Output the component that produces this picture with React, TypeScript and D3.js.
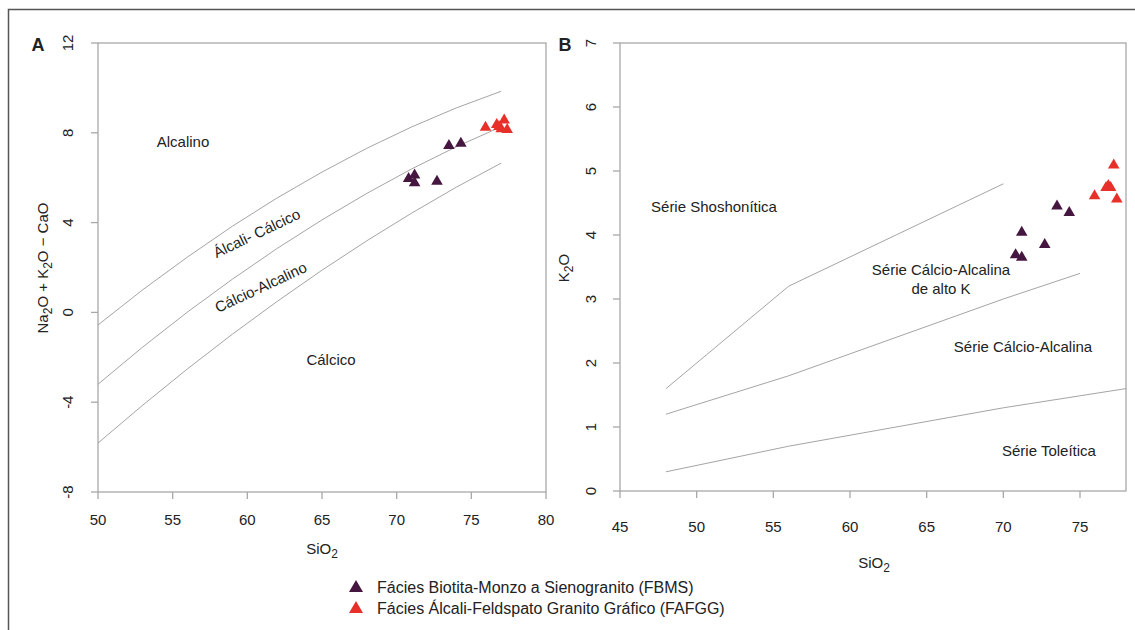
import React from "react";
import * as d3 from "d3";

// Sample compositions (wt%)
const fbmsSiO2 = [70.8, 71.2, 71.2, 72.7, 73.5, 74.3];
const fbmsMALI = [5.96, 6.11, 5.77, 5.83, 7.43, 7.53];
const fbmsK2O = [3.69, 4.04, 3.65, 3.85, 4.45, 4.35];

const fafggSiO2 = [75.95, 76.7, 76.85, 77.0, 77.2, 77.4];
const fafggMALI = [8.24, 8.36, 8.27, 8.17, 8.56, 8.14];
const fafggK2O = [4.61, 4.74, 4.77, 4.74, 5.09, 4.56];

// MALI field boundaries (Frost et al., 2001), tabulated
const maliSiO2 = [50, 53, 56, 59, 62, 65, 68, 71, 74, 77];
const alkalicBound = [-0.56, 1.01, 2.47, 3.84, 5.1, 6.25, 7.31, 8.26, 9.11, 9.85];
const alkaliCalcicBound = [-3.2, -1.54, 0.02, 1.48, 2.85, 4.12, 5.3, 6.39, 7.38, 8.27];
const calcAlkalicBound = [-5.82, -4.13, -2.51, -0.97, 0.49, 1.88, 3.19, 4.42, 5.58, 6.65];

// K2O vs SiO2 series boundaries (Peccerillo & Taylor, 1976)
const shoshSiO2 = [48, 56, 70];
const shoshK2O = [1.6, 3.2, 4.8];
const highKSiO2 = [48, 52, 56, 63, 70, 75];
const highKK2O = [1.2, 1.5, 1.8, 2.4, 3.0, 3.4];
const tholSiO2 = [48, 52, 56, 63, 70, 78];
const tholK2O = [0.3, 0.5, 0.7, 1.0, 1.3, 1.6];

const ticksA_x = [50, 55, 60, 65, 70, 75, 80];
const ticksA_y = [-8, -4, 0, 4, 8, 12];
const ticksB_x = [45, 50, 55, 60, 65, 70, 75];
const ticksB_y = [0, 1, 2, 3, 4, 5, 6, 7];

const PURPLE = "#45163f";
const RED = "#e8302a";
const AXIS = "#a8a8a8";
const BOUND = "#9a9a9a";
const TEXT = "#222";
const FONT = "'Liberation Sans', Arial, sans-serif";

const tri = d3.symbol(d3.symbolTriangle).size(58)() as string;
const triLegend = d3.symbol(d3.symbolTriangle).size(85)() as string;

type Pt = [number, number];
const zip = (a: number[], b: number[]): Pt[] => a.map((v, i) => [v, b[i]]);

export default function App() {
  // Panel A scales
  const xA = d3.scaleLinear().domain([50, 80]).range([98, 546]);
  const yA = d3.scaleLinear().domain([-8, 12]).range([492, 43]);
  // Panel B scales
  const xB = d3.scaleLinear().domain([45, 78]).range([620, 1126]);
  const yB = d3.scaleLinear().domain([0, 7]).range([491, 43]);

  const lineA = d3.line<Pt>().x((d) => xA(d[0])).y((d) => yA(d[1]));
  const lineB = d3.line<Pt>().x((d) => xB(d[0])).y((d) => yB(d[1]));

  const tickLen = 7;
  const fs = 15;

  return (
    <svg
      width={1135}
      height={630}
      style={{ position: "absolute", left: 0, top: 0, background: "#fff" }}
      fontFamily={FONT}
    >
      {/* outer frame */}
      <path d="M8.5,1200 V9.5 H1200" fill="none" stroke="#555" strokeWidth={1.5} />

      {/* ---------- Panel A ---------- */}
      <text x={38} y={51} fontSize={18} fontWeight="bold" fill={TEXT} textAnchor="middle">A</text>
      <rect x={98} y={43} width={546 - 98} height={492 - 43} fill="none" stroke={AXIS} strokeWidth={1.3} />
      {ticksA_x.map((t) => (
        <g key={"ax" + t}>
          <line x1={xA(t)} x2={xA(t)} y1={492} y2={492 + tickLen} stroke={AXIS} strokeWidth={1.3} />
          <text x={xA(t)} y={525} fontSize={fs} fill={TEXT} textAnchor="middle">{t}</text>
        </g>
      ))}
      {ticksA_y.map((t) => (
        <g key={"ay" + t}>
          <line x1={98 - tickLen} x2={98} y1={yA(t)} y2={yA(t)} stroke={AXIS} strokeWidth={1.3} />
          <text
            transform={`translate(73,${yA(t)}) rotate(-90)`}
            fontSize={fs}
            fill={TEXT}
            textAnchor="middle"
          >
            {t}
          </text>
        </g>
      ))}
      <text x={xA(65)} y={554} fontSize={fs} fill={TEXT} textAnchor="middle">
        SiO<tspan dy={4} fontSize={12}>2</tspan>
      </text>
      <text transform="translate(48,268) rotate(-90)" fontSize={fs} fill={TEXT} textAnchor="middle">
        Na<tspan dy={4} fontSize={12}>2</tspan>
        <tspan dy={-4}>O + K</tspan>
        <tspan dy={4} fontSize={12}>2</tspan>
        <tspan dy={-4}>O − CaO</tspan>
      </text>

      {[alkalicBound, alkaliCalcicBound, calcAlkalicBound].map((b, i) => (
        <path key={"ba" + i} d={lineA(zip(maliSiO2, b)) as string} fill="none" stroke={BOUND} strokeWidth={0.9} />
      ))}

      <text x={183} y={147} fontSize={fs} fill={TEXT} textAnchor="middle">Alcalino</text>
      <text transform="translate(259,238) rotate(-25.5)" fontSize={fs} fill={TEXT} textAnchor="middle">
        Álcali- Cálcico
      </text>
      <text transform="translate(263,292) rotate(-25)" fontSize={fs} fill={TEXT} textAnchor="middle">
        Cálcio-Alcalino
      </text>
      <text x={331} y={365} fontSize={fs} fill={TEXT} textAnchor="middle">Cálcico</text>

      {fbmsSiO2.map((s, i) => (
        <path key={"pa" + i} d={tri} transform={`translate(${xA(s)},${yA(fbmsMALI[i])})`} fill={PURPLE} />
      ))}
      {fafggSiO2.map((s, i) => (
        <path key={"ra" + i} d={tri} transform={`translate(${xA(s)},${yA(fafggMALI[i])})`} fill={RED} />
      ))}

      {/* ---------- Panel B ---------- */}
      <text x={565} y={51} fontSize={18} fontWeight="bold" fill={TEXT} textAnchor="middle">B</text>
      <rect x={620} y={43} width={1126 - 620} height={491 - 43} fill="none" stroke={AXIS} strokeWidth={1.3} />
      {ticksB_x.map((t) => (
        <g key={"bx" + t}>
          <line x1={xB(t)} x2={xB(t)} y1={491} y2={491 + tickLen} stroke={AXIS} strokeWidth={1.3} />
          <text x={xB(t)} y={532} fontSize={fs} fill={TEXT} textAnchor="middle">{t}</text>
        </g>
      ))}
      {ticksB_y.map((t) => (
        <g key={"by" + t}>
          <line x1={620 - tickLen} x2={620} y1={yB(t)} y2={yB(t)} stroke={AXIS} strokeWidth={1.3} />
          <text
            transform={`translate(596,${yB(t)}) rotate(-90)`}
            fontSize={fs}
            fill={TEXT}
            textAnchor="middle"
          >
            {t}
          </text>
        </g>
      ))}
      <text x={874} y={568} fontSize={fs} fill={TEXT} textAnchor="middle">
        SiO<tspan dy={4} fontSize={12}>2</tspan>
      </text>
      <text transform="translate(569,268) rotate(-90)" fontSize={fs} fill={TEXT} textAnchor="middle">
        K<tspan dy={4} fontSize={12}>2</tspan>
        <tspan dy={-4}>O</tspan>
      </text>

      {[zip(shoshSiO2, shoshK2O), zip(highKSiO2, highKK2O), zip(tholSiO2, tholK2O)].map((p, i) => (
        <path key={"bb" + i} d={lineB(p) as string} fill="none" stroke={BOUND} strokeWidth={0.9} />
      ))}

      <text x={714} y={212} fontSize={fs} fill={TEXT} textAnchor="middle">Série Shoshonítica</text>
      <text x={941} y={275} fontSize={fs} fill={TEXT} textAnchor="middle">Série Cálcio-Alcalina</text>
      <text x={941} y={294} fontSize={fs} fill={TEXT} textAnchor="middle">de alto K</text>
      <text x={1023} y={352} fontSize={fs} fill={TEXT} textAnchor="middle">Série Cálcio-Alcalina</text>
      <text x={1049} y={456} fontSize={fs} fill={TEXT} textAnchor="middle">Série Toleítica</text>

      {fbmsSiO2.map((s, i) => (
        <path key={"pb" + i} d={tri} transform={`translate(${xB(s)},${yB(fbmsK2O[i])})`} fill={PURPLE} />
      ))}
      {fafggSiO2.map((s, i) => (
        <path key={"rb" + i} d={tri} transform={`translate(${xB(s)},${yB(fafggK2O[i])})`} fill={RED} />
      ))}

      {/* ---------- Legend ---------- */}
      <path d={triLegend} transform="translate(356,588)" fill={PURPLE} />
      <text x={377} y={593} fontSize={16} fill={TEXT}>Fácies Biotita-Monzo a Sienogranito (FBMS)</text>
      <path d={triLegend} transform="translate(356,609)" fill={RED} />
      <text x={377} y={614} fontSize={16} fill={TEXT}>Fácies Álcali-Feldspato Granito Gráfico (FAFGG)</text>
    </svg>
  );
}
